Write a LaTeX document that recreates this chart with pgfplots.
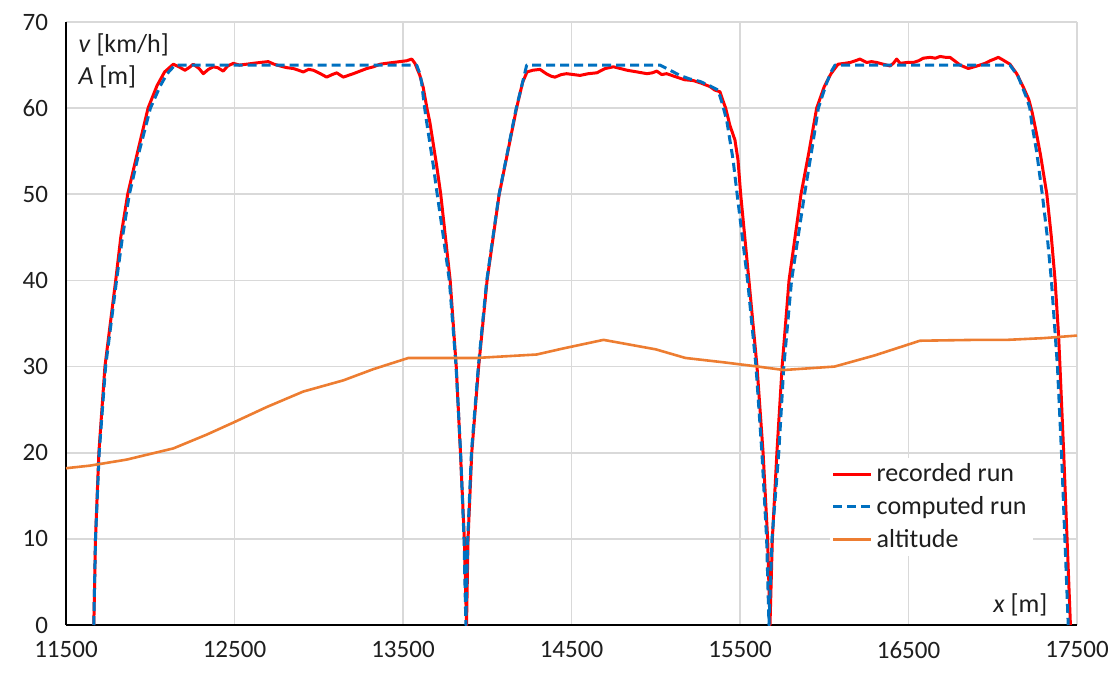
\documentclass[border=0pt]{standalone}
\usepackage{pgfplots}
\pgfplotsset{compat=1.18}
\usepackage{pgfplotstable}
\usepackage{fontspec}
\setmainfont{Carlito}
\definecolor{recred}{RGB}{255,0,0}
\definecolor{compblue}{RGB}{0,112,192}
\definecolor{altorange}{RGB}{237,125,49}
\definecolor{gridgray}{RGB}{217,217,217}
\definecolor{txt}{RGB}{30,30,30}

\pgfplotstableread{
x y
11665 0
11675 10
11695 20
11731 30
11795 40
11825 45
11866 50
11926 55
11987 60
12040 62.6
12085 64.2
12137 65.1
12170 64.8
12206 64.4
12230 64.7
12255 65.1
12290 64.6
12315 64.0
12345 64.5
12374 64.8
12400 64.7
12433 64.3
12460 64.9
12493 65.2
12530 65.0
12572 65.1
12610 65.2
12651 65.3
12700 65.4
12735 65.1
12770 64.9
12810 64.7
12849 64.6
12880 64.4
12908 64.2
12940 64.5
12968 64.4
13010 64.0
13047 63.6
13080 63.9
13107 64.1
13130 63.8
13146 63.6
13175 63.8
13205 64.0
13245 64.3
13285 64.6
13325 64.8
13364 65.1
13400 65.2
13442 65.3
13480 65.4
13522 65.5
13552 65.7
13571 65.2
13600 63.8
13620 62.4
13642 60.0
13660 58.3
13700 53.3
13724 50
13752 45
13780 40
13816 30
13841 20
13864 10
13877 0
13886 10
13908 20
13949 30
13999 40
14071 50
14174 60
14210 63.0
14236 64.2
14270 64.4
14313 64.5
14350 64.0
14380 63.7
14402 63.6
14440 63.9
14471 64.0
14510 63.9
14551 63.8
14600 64.0
14650 64.1
14700 64.6
14749 64.8
14790 64.6
14830 64.4
14890 64.2
14948 64.0
14980 64.1
15006 64.3
15035 63.9
15065 64.0
15095 63.8
15124 63.6
15170 63.3
15223 63.2
15270 62.9
15322 62.5
15350 62.1
15381 61.9
15400 60.8
15415 60.0
15440 58.0
15470 56.3
15488 54.0
15504 50
15553 40
15601 30
15637 20
15664 10
15678 0
15692 10
15719 20
15750 30
15791 40
15862 50
15910 55
15955 60
16000 62.5
16040 64.0
16082 65.1
16120 65.2
16153 65.3
16185 65.5
16212 65.7
16252 65.3
16280 65.4
16311 65.3
16350 65.1
16390 64.9
16410 65.2
16430 65.7
16450 65.2
16490 65.3
16529 65.3
16560 65.5
16588 65.8
16628 65.9
16660 65.8
16687 66.0
16720 65.9
16746 65.9
16780 65.4
16806 65.0
16830 64.8
16855 64.6
16890 64.8
16924 65.0
16955 65.2
16984 65.5
17010 65.7
17033 65.9
17060 65.6
17102 65.1
17142 64.0
17180 62.5
17214 61.0
17234 59.5
17260 57.0
17284 54.5
17321 50
17348 45
17370 40
17391 33.5
17399 30
17421 20
17441 10
17461 0
}\recorded

\pgfplotstableread{
x y
11665 0
11675 10
11697 20
11735 30
11800 40
11835 45
11876 50
11935 55
12001 60
12060 62.6
12100 64.0
12147 65
13581 65
13600 64.0
13611 62.9
13625 60.5
13641 58.3
13680 53.3
13703 50
13740 45
13775 40
13815 30
13842 20
13862 10
13873 0
13884 10
13906 20
13947 30
13997 40
14070 50
14172 60
14205 62.6
14234 65
15025 65
15085 64.4
15144 63.8
15200 63.4
15263 63.1
15320 62.6
15370 62.1
15395 60.5
15421 58.6
15459 54
15483 50
15545 40
15595 30
15630 20
15658 10
15672 0
15690 10
15730 20
15760 30
15806 40
15883 50
15925 55
15965 60
16010 62.7
16040 64.2
16064 65
17102 65
17150 63.7
17201 61.2
17220 60
17231 58.3
17260 55
17294 50
17324 45
17348 40
17384 30
17408 20
17428 10
17448 0
}\computed

\pgfplotstableread{
x y
11500 18.2
11642 18.5
11860 19.2
12137 20.5
12335 22.1
12493 23.5
12691 25.3
12908 27.1
13146 28.4
13324 29.7
13532 31.0
13937 31.0
14293 31.4
14450 32.1
14690 33.1
15000 32.0
15176 31.0
15400 30.5
15607 30.0
15759 29.6
16061 30.0
16300 31.3
16568 33.0
16900 33.1
17084 33.1
17300 33.3
17500 33.6
}\altitude

\begin{document}
\begin{tikzpicture}
\useasboundingbox (-33pt,-25pt) rectangle (527pt,312.5pt);
\begin{axis}[
  at={(0,0)}, anchor=south west,
  scale only axis,
  width=505.5pt, height=301.5pt,
  xmin=11500, xmax=17500,
  ymin=0, ymax=70,
  xtick={11500,12500,13500,14500,15500,16500,17500},
  xticklabels={11500,12500,13500,14500,15500,16500,17500},
  ytick={0,10,20,30,40,50,60,70},
  axis x line=bottom, axis y line=left,
  axis line style={-, line width=1pt, black},
  major tick length=0pt,
  grid=major,
  major grid style={gridgray, line width=0.8pt},
  /pgf/number format/assume math mode=true,
  tick label style={font=\fontsize{12.5}{15}\selectfont, text=txt},
  xticklabel style={yshift=-7pt, inner sep=1pt},
  yticklabel style={xshift=-5.5pt},
  legend style={draw=none, fill=white, at={(0.755,0.278)}, anchor=north west,
    font=\fontsize{13}{15.6}\selectfont, text=txt, inner sep=1pt,
    row sep=1.8pt, cells={anchor=west}},
  legend cell align=left,
  legend image code/.code={\draw[#1] (0pt,0pt) -- (19pt,0pt);},
  clip=true,
]
\addplot[recred, line width=1.5pt, line join=round] table[x=x,y=y] {\recorded};
\addlegendentry{recorded run}
\addplot[compblue, line width=1.5pt, dash pattern=on 4.5pt off 2.5pt, line join=round] table[x=x,y=y] {\computed};
\addlegendentry{computed run}
\addplot[altorange, line width=1.3pt, line join=round] table[x=x,y=y] {\altitude};
\addlegendentry{altitude}
\node[anchor=west, font=\fontsize{13}{15.6}\selectfont, text=txt, inner sep=0pt] at (rel axis cs:0.012,0.962) {\textit{v} [km/h]};
\node[anchor=west, font=\fontsize{13}{15.6}\selectfont, text=txt, inner sep=0pt] at (rel axis cs:0.012,0.909) {\textit{A} [m]};
\node[anchor=east, font=\fontsize{13}{15.6}\selectfont, text=txt, inner sep=0pt] at (rel axis cs:0.971,0.033) {\textit{x} [m]};
\end{axis}
\end{tikzpicture}
\end{document}
